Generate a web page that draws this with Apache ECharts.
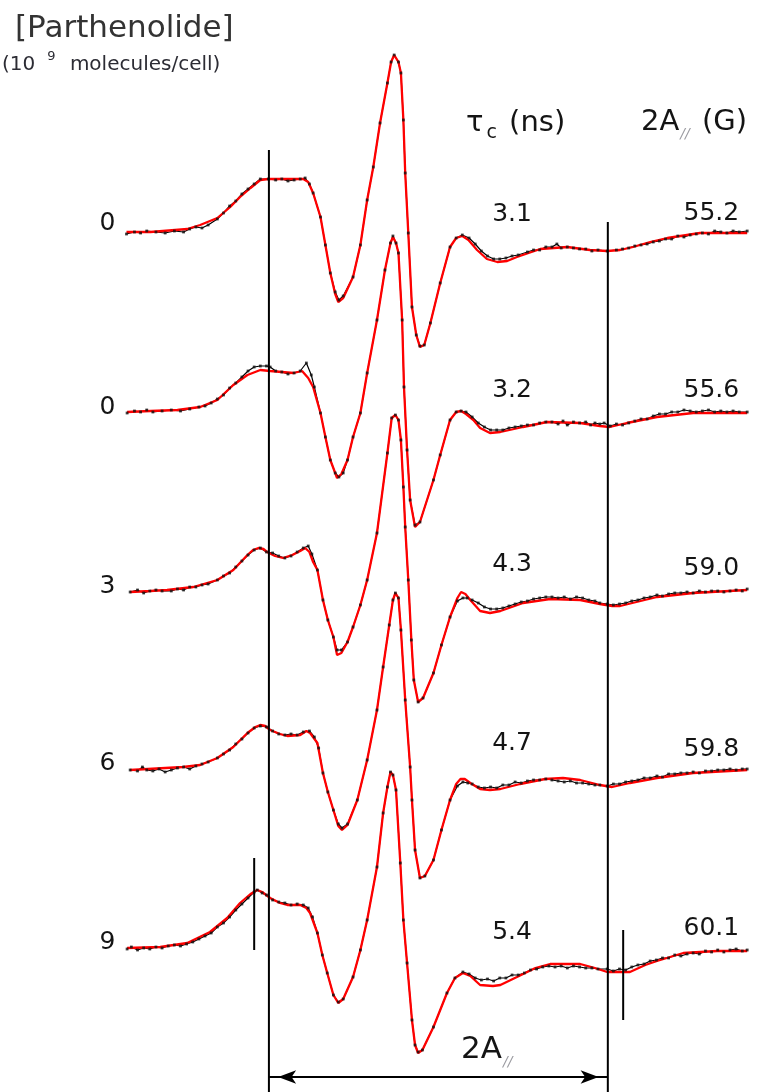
<!DOCTYPE html>
<html>
<head>
<meta charset="utf-8">
<script src="https://cdn.jsdelivr.net/npm/echarts@6/dist/echarts.min.js"></script>
<style>
html,body{margin:0;padding:0;background:#ffffff;}
#chart{width:765px;height:1092px;}
</style>
</head>
<body>
<div id="chart"></div>
<script>
// ---------------- DATA (field in G, signal amplitude in arbitrary units) ----------------
const concentrations = ['0', '0', '3', '6', '9'];
const tauC = ['3.1', '3.2', '4.3', '4.7', '5.4'];
const twoAPar = ['55.2', '55.6', '59.0', '59.8', '60.1'];

// fitted (simulated) spectra - red
const fit1 = [[0.2,0],[4.1,0],[10.1,3],[12.2,7],[15.0,14],[17.1,25],[18.7,35],[20.4,44],[22.0,52],[23.3,53],[29.0,53],[29.8,50],[30.6,39],[31.8,15],[32.6,-13],[33.4,-41],[34.2,-62],[34.7,-70],[35.5,-66],[37.1,-45],[38.3,-13],[39.4,32],[40.4,65],[41.5,109],[42.7,149],[43.3,170],[43.8,177],[44.5,170],[44.9,159],[45.3,112],[45.6,59],[46.1,-1],[46.7,-75],[47.4,-103],[48.0,-115],[48.7,-113],[49.7,-91],[51.3,-51],[52.9,-15],[53.9,-6],[54.9,-4],[55.9,-8],[57.3,-18],[58.9,-27],[60.6,-30],[62.2,-29],[63.8,-25],[67.6,-17],[72.0,-15],[75.7,-18],[78.5,-19],[80.6,-18],[82.7,-15],[85.5,-10],[88.3,-6],[93.6,-1],[101.3,-1]];
const fit2 = [[0.3,-1],[4.1,0],[8.5,1],[12.2,4],[15.0,11],[17.6,26],[19.9,36],[22.0,41],[23.6,40],[27.4,38],[28.8,40],[29.8,33],[30.6,24],[31.8,-2],[32.6,-26],[33.4,-49],[34.5,-67],[35.2,-63],[36.2,-49],[37.1,-26],[38.3,-2],[39.4,38],[41.0,91],[42.3,141],[43.2,168],[43.6,174],[44.1,168],[44.5,158],[45.1,91],[45.4,24],[45.9,-39],[46.4,-89],[47.2,-116],[48.0,-111],[50.2,-69],[51.3,-44],[52.9,-9],[53.9,-1],[54.7,0],[55.5,-3],[56.7,-9],[57.8,-17],[59.4,-22],[61.1,-21],[64.8,-16],[68.7,-11],[74.1,-12],[77.3,-15],[78.9,-16],[81.7,-12],[86.6,-6],[92.5,-2],[101.3,-2]];
const fit3 = [[0.8,0],[4.1,1],[6.8,2],[11.1,5],[15.0,12],[17.6,22],[19.9,37],[20.8,42],[21.7,44],[22.5,43],[23.1,40],[24.4,36],[25.7,34],[27.2,37],[28.5,41],[29.3,44],[30.0,40],[30.6,30],[31.3,22],[32.2,-8],[33.0,-28],[33.9,-45],[34.5,-63],[35.2,-61],[36.2,-50],[37.1,-35],[38.3,-13],[39.4,12],[41.0,59],[42.7,139],[43.4,174],[44.0,177],[44.5,172],[44.9,152],[45.3,105],[45.6,65],[46.1,12],[46.6,-48],[47.0,-88],[47.7,-110],[48.5,-106],[50.2,-81],[51.5,-53],[52.9,-25],[54.1,-6],[54.7,0],[55.4,-2],[56.2,-8],[57.8,-19],[59.4,-21],[61.1,-19],[64.8,-11],[69.2,-7],[74.1,-8],[77.3,-12],[79.3,-14],[80.6,-14],[86.6,-5],[92.5,-1],[101.3,2]];
const fit4 = [[0.8,0],[9.4,3],[12.2,5],[15.0,12],[17.6,23],[19.9,37],[21.2,43],[22.0,45],[22.8,44],[23.6,40],[25.2,36],[26.4,34],[28.5,35],[29.5,39],[30.1,37],[31.3,27],[32.2,-3],[33.0,-22],[33.9,-40],[34.7,-56],[35.3,-60],[36.2,-55],[37.8,-30],[39.4,10],[41.0,60],[42.0,103],[43.0,145],[43.6,170],[44.0,177],[44.5,172],[44.9,140],[45.6,70],[46.4,3],[46.7,-30],[47.2,-80],[48.0,-108],[48.8,-106],[50.2,-90],[51.5,-60],[52.9,-30],[53.9,-14],[54.6,-9],[55.3,-9],[56.2,-13],[57.8,-19],[59.4,-20],[61.1,-19],[64.3,-14],[68.4,-9],[71.3,-8],[74.1,-10],[77.3,-15],[79.3,-17],[82.2,-13],[86.6,-8],[92.5,-3],[101.3,0]];
const fit5 = [[0.3,-1],[5.7,0],[10.1,4],[13.8,15],[16.6,29],[18.7,44],[20.4,53],[21.5,57],[22.3,55],[23.6,49],[25.2,44],[26.4,42],[28.5,42],[29.5,39],[30.1,34],[31.3,14],[32.1,-8],[32.9,-26],[33.9,-48],[34.7,-56],[35.5,-52],[37.1,-30],[38.3,-3],[39.4,27],[41.0,80],[42.0,134],[42.7,160],[43.2,175],[43.6,172],[44.1,157],[44.8,84],[45.3,27],[45.9,-16],[46.7,-73],[47.2,-98],[47.7,-106],[48.4,-103],[50.2,-80],[52.4,-46],[53.7,-31],[55.0,-26],[56.2,-29],[57.8,-38],[59.9,-39],[61.1,-38],[63.8,-30],[66.8,-21],[69.2,-17],[74.1,-17],[76.5,-21],[78.5,-25],[82.2,-25],[84.7,-18],[86.6,-14],[90.9,-6],[96.4,-4],[101.3,-4]];

// experimental spectra - black
const exp1 = [[0.2,-2],[1.5,0],[2.5,-1],[3.5,1],[5,0],[6.5,-1],[8,1],[9.5,0],[10.5,3],[11.5,5],[12.5,4],[13.5,7],[15,13],[16,19],[17,26],[18,31],[19,38],[20,43],[21,48],[22,53],[23.3,53],[24.5,52],[25.5,53],[26.5,51],[27.5,52],[28.5,53],[29.3,54],[30,48],[30.6,39],[31.8,15],[32.6,-13],[33.4,-41],[34.2,-60],[34.8,-68],[35.5,-64],[37.1,-45],[38.3,-13],[39.4,32],[40.4,65],[41.5,109],[42.7,149],[43.3,170],[43.8,177],[44.5,170],[44.9,159],[45.3,112],[45.6,59],[46.1,-1],[46.7,-75],[47.4,-103],[48.0,-114],[48.7,-113],[49.7,-91],[51.3,-51],[52.9,-15],[53.9,-6],[54.9,-3],[56,-6],[57,-12],[58,-19],[59,-24],[60,-27],[61,-27],[62,-26],[63,-24],[64,-23],[65.5,-20],[66.5,-18],[67.5,-18],[68.5,-15],[69.5,-15],[70.3,-12],[71,-16],[72,-15],[73,-16],[74,-17],[75,-17],[76,-19],[77,-18],[78.5,-19],[80,-18],[81,-17],[82,-16],[83,-14],[84,-13],[85,-12],[86,-10],[87,-9],[88,-7],[89,-7],[90,-4],[91,-5],[92,-3],[93,-2],[94,-1],[95,-2],[96,1],[97,0],[98,-1],[99,1],[100,0],[101.3,1]];
const exp2 = [[0.3,-2],[1.5,0],[2.5,-1],[3.5,1],[4.5,-1],[6,0],[7.5,1],[9,0],[10.5,2],[12,4],[13,5],[14,8],[15,12],[16,16],[17,23],[18,28],[19,34],[20,40],[21,44],[22,45],[23,45],[23.6,44],[24.5,40],[25.5,39],[26.5,37],[27.5,38],[28.5,40],[29.5,48],[30.3,36],[30.8,24],[31.8,-2],[32.6,-26],[33.4,-49],[34.2,-62],[34.8,-66],[35.5,-62],[36.2,-49],[37.1,-26],[38.3,-2],[39.4,38],[41,91],[42.3,141],[43.2,168],[43.6,175],[44.1,168],[44.5,158],[45.1,91],[45.4,24],[45.9,-39],[46.4,-89],[47.2,-114],[48,-111],[50.2,-69],[51.3,-44],[52.9,-9],[53.9,-1],[54.7,0],[55.5,-1],[56.5,-6],[57.5,-12],[58.5,-16],[59.5,-19],[60.5,-19],[61.5,-19],[62.5,-17],[63.5,-16],[64.5,-15],[65.5,-14],[66.5,-14],[67.5,-12],[68.5,-11],[69.5,-11],[70.5,-13],[71.3,-10],[72,-14],[73,-11],[74,-12],[75,-11],[75.8,-14],[76.5,-12],[77.3,-13],[78,-12],[79,-15],[80,-13],[81,-14],[82,-12],[83,-10],[84,-8],[85,-8],[86,-5],[87,-3],[88,-3],[89,-1],[90,-1],[91,1],[92,0],[93,-1],[94,0],[95,1],[96,-1],[97,0],[98,-1],[99,0],[100,-1],[101.3,-1]];
const exp3 = [[0.8,0],[2,2],[3,-1],[4,1],[5,2],[6,1],[7.5,1],[8.5,3],[9.5,2],[10.5,5],[11.5,5],[12.5,7],[13.5,8],[15,12],[16,16],[17,19],[18,25],[19,31],[20,37],[21,42],[22,44],[23,40],[24,39],[25,36],[26,34],[27,36],[28,40],[29,44],[29.8,46],[30.4,38],[31.3,22],[32.2,-8],[33,-28],[33.9,-45],[34.5,-58],[35.2,-58],[36.2,-50],[37.1,-35],[38.3,-13],[39.4,12],[41,59],[42.7,139],[43.4,174],[44,177],[44.5,172],[44.9,152],[45.3,105],[45.6,65],[46.1,12],[46.6,-48],[47,-88],[47.7,-110],[48.5,-106],[50.2,-81],[51.5,-53],[52.9,-25],[54.1,-9],[55,-6],[55.7,-6],[56.5,-8],[57.5,-11],[58.5,-15],[59.5,-17],[60.5,-17],[61.5,-16],[62.5,-14],[63.5,-12],[64.5,-10],[65.5,-9],[66.5,-7],[67.5,-6],[68.5,-5],[69.5,-5],[70.5,-6],[71.5,-5],[72.5,-7],[73.5,-5],[74.5,-6],[75.5,-8],[76.5,-9],[77.3,-11],[78.5,-12],[79.5,-13],[80.5,-12],[81.5,-11],[82.5,-9],[83.5,-8],[84.5,-6],[85.5,-5],[86.6,-3],[87.5,-4],[88.5,-2],[89.5,-1],[90.5,-1],[91.5,0],[92.5,-1],[93.5,1],[94.5,0],[95.5,1],[96.5,1],[97.5,0],[98.5,1],[99.5,2],[100.5,1],[101.3,3]];
const exp4 = [[0.8,0],[2,-1],[2.8,3],[3.5,0],[4.5,-1],[5.5,1],[6.5,-2],[7.5,0],[8.5,2],[9.5,3],[10.5,1],[11.5,4],[12.5,6],[13.5,8],[15,12],[16,16],[17,20],[18,26],[19,31],[20,37],[21,42],[22,44],[23,43],[24,39],[25,36],[26,35],[27,36],[28,35],[29,38],[30,39],[30.8,33],[31.5,22],[32.2,-3],[33,-22],[33.9,-40],[34.7,-54],[35.3,-58],[36.2,-54],[37.8,-30],[39.4,10],[41,60],[42,103],[43,145],[43.6,170],[44,177],[44.5,172],[44.9,140],[45.6,70],[46.4,3],[46.7,-30],[47.2,-80],[48,-108],[48.8,-106],[50.2,-90],[51.5,-60],[52.9,-30],[54.1,-16],[55,-12],[55.8,-13],[56.5,-14],[57.5,-17],[58.5,-18],[59.5,-17],[60.5,-18],[61.5,-15],[62.5,-15],[63.5,-12],[64.5,-13],[65.5,-11],[66.5,-10],[67.5,-10],[68.5,-9],[69.5,-10],[70.5,-11],[71.5,-12],[72.5,-11],[73.5,-13],[74.5,-13],[75.5,-14],[76.5,-15],[77.3,-15],[78.5,-16],[79.5,-14],[80.5,-14],[81.5,-12],[82.5,-11],[83.5,-10],[84.5,-8],[85.5,-8],[86.6,-6],[87.5,-7],[88.5,-4],[89.5,-4],[90.5,-3],[91.5,-3],[92.5,-2],[93.5,-3],[94.5,-1],[95.5,-1],[96.5,0],[97.5,0],[98.5,1],[99.5,0],[100.5,1],[101.3,1]];
const exp5 = [[0.3,-2],[1,0],[2,-3],[3,-1],[4,-2],[5,0],[6,-1],[7,1],[8,2],[9,1],[10,3],[11,5],[12,8],[13,11],[14,14],[15,20],[16,24],[17,30],[18,37],[19,43],[20,49],[21,55],[21.5,57],[22.3,54],[23,52],[24,47],[25,45],[26,44],[27,42],[28,43],[29,42],[29.8,39],[30.5,30],[31.3,14],[32.1,-8],[32.9,-26],[33.9,-48],[34.7,-55],[35.5,-52],[37.1,-30],[38.3,-3],[39.4,27],[41,80],[42,134],[42.7,160],[43.2,175],[43.6,172],[44.1,157],[44.8,84],[45.3,27],[45.9,-16],[46.7,-73],[47.2,-98],[47.7,-105],[48.4,-103],[50.2,-80],[52.4,-46],[53.7,-31],[55,-25],[56,-27],[57,-31],[58,-33],[59,-32],[60,-34],[61,-31],[62,-31],[63,-28],[64,-28],[65,-26],[66,-23],[67,-22],[68,-20],[69,-19],[70,-20],[71,-19],[72,-21],[73,-19],[74,-20],[75,-21],[76,-21],[77,-22],[78.5,-22],[79.5,-24],[80.5,-22],[81.5,-23],[82.5,-20],[83.5,-18],[84.5,-17],[85.5,-14],[86.5,-13],[87.5,-11],[88.5,-11],[89.5,-8],[90.5,-9],[91.5,-7],[92.5,-6],[93.5,-7],[94.5,-4],[95.5,-5],[96.5,-3],[97.5,-5],[98.5,-3],[99.5,-2],[100.5,-4],[101.3,-3]];

// 2A// marker field positions (G): lower field line and splitting
const topMarkerLow = 23.4, topSplitting = 55.2;
const bottomMarkerLow = 21.0, bottomSplitting = 60.1;

// ---------------- LAYOUT ----------------
const fits = [fit1, fit2, fit3, fit4, fit5];
const exps = [exp1, exp2, exp3, exp4, exp5];
const X_MIN = -20.4, X_MAX = 104.2;   // field range across full width
const Y_MIN = -130, Y_MAX = 190;      // amplitude range of each trace panel
const PANEL_H = 320;
const baselinePx = [232, 411, 592, 770, 947];
const concLift = [9, 4, 6, 7, 5];
const tauLift = [18, 21, 28, 27, 15];
const aLift = [19, 21, 24, 21, 19];
const FONT = '"DejaVu Sans", Verdana, sans-serif';
const TXT = '#141414';

const grids = [], xAxes = [], yAxes = [], series = [];
for (let i = 0; i < 5; i++) {
  grids.push({left: 0, right: 0, top: baselinePx[i] - Y_MAX, height: PANEL_H, containLabel: false});
  xAxes.push({type: 'value', gridIndex: i, min: X_MIN, max: X_MAX, show: false});
  yAxes.push({type: 'value', gridIndex: i, min: Y_MIN, max: Y_MAX, show: false});
}
// annotation overlay panel (full canvas, y downward)
grids.push({left: 0, right: 0, top: 0, height: 1092});
xAxes.push({type: 'value', gridIndex: 5, min: X_MIN, max: X_MAX, show: false});
yAxes.push({type: 'value', gridIndex: 5, min: 0, max: 1092, inverse: true, show: false});

for (let i = 0; i < 5; i++) {
  series.push({
    type: 'line', xAxisIndex: i, yAxisIndex: i, data: exps[i], showSymbol: false, silent: true,
    lineStyle: {color: '#000000', width: 1.2}, z: 2
  });
  series.push({
    type: 'line', xAxisIndex: i, yAxisIndex: i, data: fits[i], showSymbol: false, silent: true,
    lineStyle: {color: '#ff0000', width: 2.3}, z: 3
  });
  series.push({
    type: 'scatter', xAxisIndex: i, yAxisIndex: i, data: exps[i], symbol: 'rect', symbolSize: 2.8, silent: true,
    itemStyle: {color: '#111111'}, z: 4
  });
  const lab = {show: true, position: 'inside', fontFamily: FONT, fontSize: 25, color: TXT,
               textBorderWidth: 0, verticalAlign: 'middle'};
  series.push({
    type: 'scatter', xAxisIndex: i, yAxisIndex: i, symbolSize: 0.1, silent: true,
    itemStyle: {color: '#ffffff', opacity: 1}, z: 5,
    data: [
      {value: [-1.6, concLift[i]], label: Object.assign({}, lab, {formatter: concentrations[i], align: 'right'})},
      {value: [63.0, tauLift[i]], label: Object.assign({}, lab, {formatter: tauC[i], align: 'center'})},
      {value: [100.0, aLift[i]], label: Object.assign({}, lab, {formatter: twoAPar[i], align: 'right'})}
    ]
  });
}

const blackLine = {color: '#000000', width: 2};
function vLine(x, y0, y1) {
  return {type: 'line', xAxisIndex: 5, yAxisIndex: 5, data: [[x, y0], [x, y1]], showSymbol: false,
          silent: true, lineStyle: blackLine, z: 6};
}
series.push(vLine(topMarkerLow, 150, 1092));
series.push(vLine(topMarkerLow + topSplitting, 222, 1092));
series.push(vLine(bottomMarkerLow, 858, 950));
series.push(vLine(bottomMarkerLow + bottomSplitting, 930, 1020));
// double headed arrow spanning 2A//
const arrowInset = 1.5;
series.push({
  type: 'line', xAxisIndex: 5, yAxisIndex: 5, silent: true, z: 6, lineStyle: blackLine,
  symbolSize: [10, 18], itemStyle: {color: '#000000'},
  data: [
    {value: [topMarkerLow, 1077], symbol: 'none'},
    {value: [topMarkerLow + arrowInset, 1077], symbol: 'arrow', symbolRotate: 90},
    {value: [topMarkerLow + topSplitting - arrowInset, 1077], symbol: 'arrow', symbolRotate: -90},
    {value: [topMarkerLow + topSplitting, 1077], symbol: 'none'}
  ]
});

const option = {
  animation: false,
  backgroundColor: '#ffffff',
  grid: grids, xAxis: xAxes, yAxis: yAxes, series: series,
  graphic: [
    {type: 'text', left: 15, top: 13, silent: true,
     style: {text: '[Parthenolide]', font: '31px ' + FONT, fill: '#333333'}},
    {type: 'text', left: 2, top: 50, silent: true,
     style: {text: '{a|(10}{s|9}{a| molecules/cell)}', fill: '#2c2c34',
             rich: {a: {fontFamily: FONT, fontSize: 20, lineHeight: 25, verticalAlign: 'bottom', fill: '#2c2c34'},
                    s: {fontFamily: FONT, fontSize: 13, lineHeight: 25, verticalAlign: 'top', padding: [0, 8, 0, 12], fill: '#2c2c34'}}}},
    {type: 'text', left: 466, top: 109, silent: true,
     style: {text: '{a|τ}{s|c}{a| (ns)}',
             rich: {a: {fontFamily: FONT, fontSize: 29, lineHeight: 38, verticalAlign: 'middle', fill: TXT},
                    s: {fontFamily: FONT, fontSize: 19, lineHeight: 18, verticalAlign: 'bottom', padding: [0, 3, 0, 3], fill: TXT}}}},
    {type: 'text', left: 641, top: 108, silent: true,
     style: {text: '{a|2A}{s|//}{a| (G)}',
             rich: {a: {fontFamily: FONT, fontSize: 29, lineHeight: 38, verticalAlign: 'middle', fill: TXT},
                    s: {fontFamily: FONT, fontSize: 14, fontStyle: 'italic', lineHeight: 14, verticalAlign: 'bottom', padding: [0, 3, 0, 1], fill: '#9a9aa0'}}}},
    {type: 'text', left: 461, top: 1034, silent: true,
     style: {text: '{a|2A}{s|//}',
             rich: {a: {fontFamily: FONT, fontSize: 31, lineHeight: 40, verticalAlign: 'middle', fill: TXT},
                    s: {fontFamily: FONT, fontSize: 14, fontStyle: 'italic', lineHeight: 14, verticalAlign: 'bottom', padding: [0, 0, 0, 1], fill: '#9a9aa0'}}}}
  ]
};

const chart = echarts.init(document.getElementById('chart'), null, {renderer: 'canvas'});
chart.setOption(option);
</script>
</body>
</html>
